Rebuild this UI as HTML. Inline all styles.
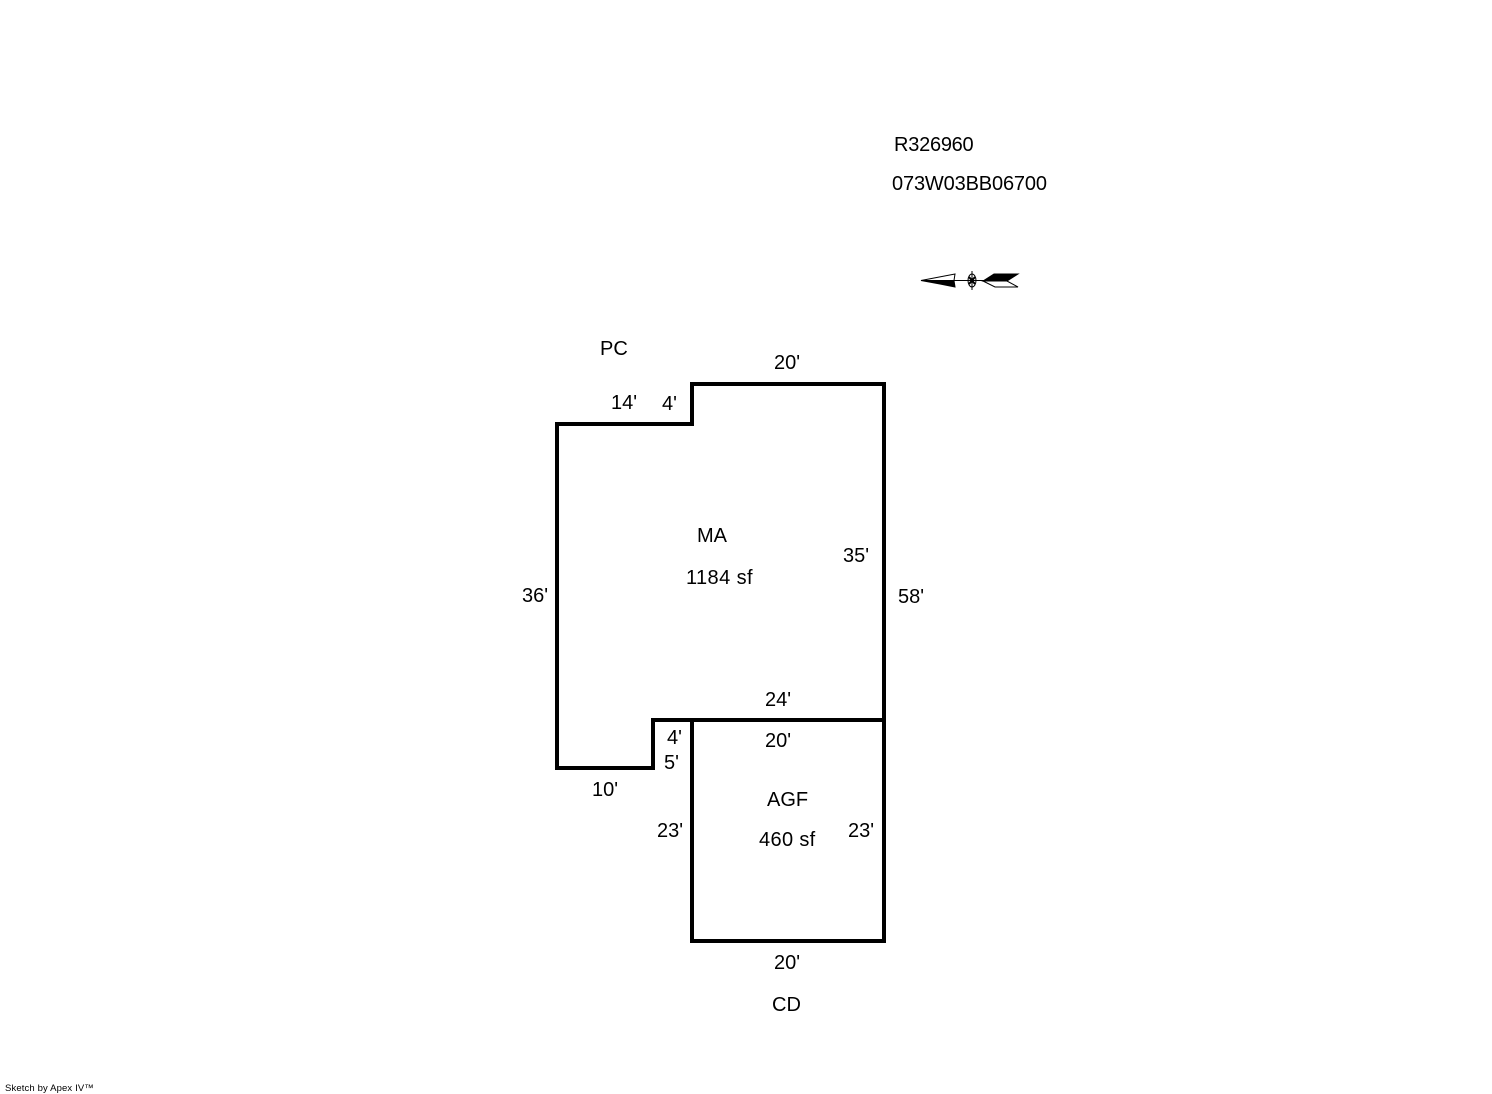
<!DOCTYPE html>
<html>
<head>
<meta charset="utf-8">
<style>
html,body{margin:0;padding:0;background:#fff}
svg{display:block}
text{font-family:"Liberation Sans",Arial,sans-serif;font-size:20px;fill:#000}
</style>
</head>
<body>
<svg width="1492" height="1094" viewBox="0 0 1492 1094" xmlns="http://www.w3.org/2000/svg">
<rect width="1492" height="1094" fill="#fff"/>
<g fill="none" stroke="#000" stroke-width="4" stroke-linecap="square" stroke-linejoin="miter">
<path d="M557 424H692V384H884V941H692V720"/>
<path d="M557 424V768H653V720H884"/>
</g>
<text x="894" y="151" letter-spacing="-0.25">R326960</text>
<text x="892" y="190" letter-spacing="-0.15">073W03BB06700</text>
<text x="600" y="355">PC</text>
<text x="774" y="369">20'</text>
<text x="611" y="409">14'</text>
<text x="662" y="410">4'</text>
<text x="697" y="542">MA</text>
<text x="686" y="584" letter-spacing="0.4">1184 sf</text>
<text x="843" y="562">35'</text>
<text x="522" y="602">36'</text>
<text x="898" y="603">58'</text>
<text x="765" y="706">24'</text>
<text x="765" y="747">20'</text>
<text x="667" y="744">4'</text>
<text x="664" y="769">5'</text>
<text x="592" y="796">10'</text>
<text x="767" y="806">AGF</text>
<text x="759" y="846" letter-spacing="0.35">460 sf</text>
<text x="657" y="837">23'</text>
<text x="848" y="837">23'</text>
<text x="774" y="969">20'</text>
<text x="772" y="1011">CD</text>
<text x="5" y="1091" style="font-size:9.5px" letter-spacing="0.13">Sketch by Apex IV™</text>
<g stroke="#000" fill="none" stroke-width="1">
<path d="M921 280.5H1007"/>
<path d="M972 271V290"/>
<ellipse cx="972" cy="280.5" rx="4" ry="6.5"/>
<path d="M969 277L975 284M975 277L969 284" stroke-width="2"/>
<path d="M921 280.5L955 274L954 280.5Z" fill="#fff"/>
<path d="M921 280.5L954 280.5L955 287L940 284Z" fill="#000"/>
<path d="M983 281L994 274H1018L1007 281Z" fill="#000"/>
<path d="M983 281L995 287H1018L1007 281Z" fill="#fff"/>
</g>
</svg>
</body>
</html>
